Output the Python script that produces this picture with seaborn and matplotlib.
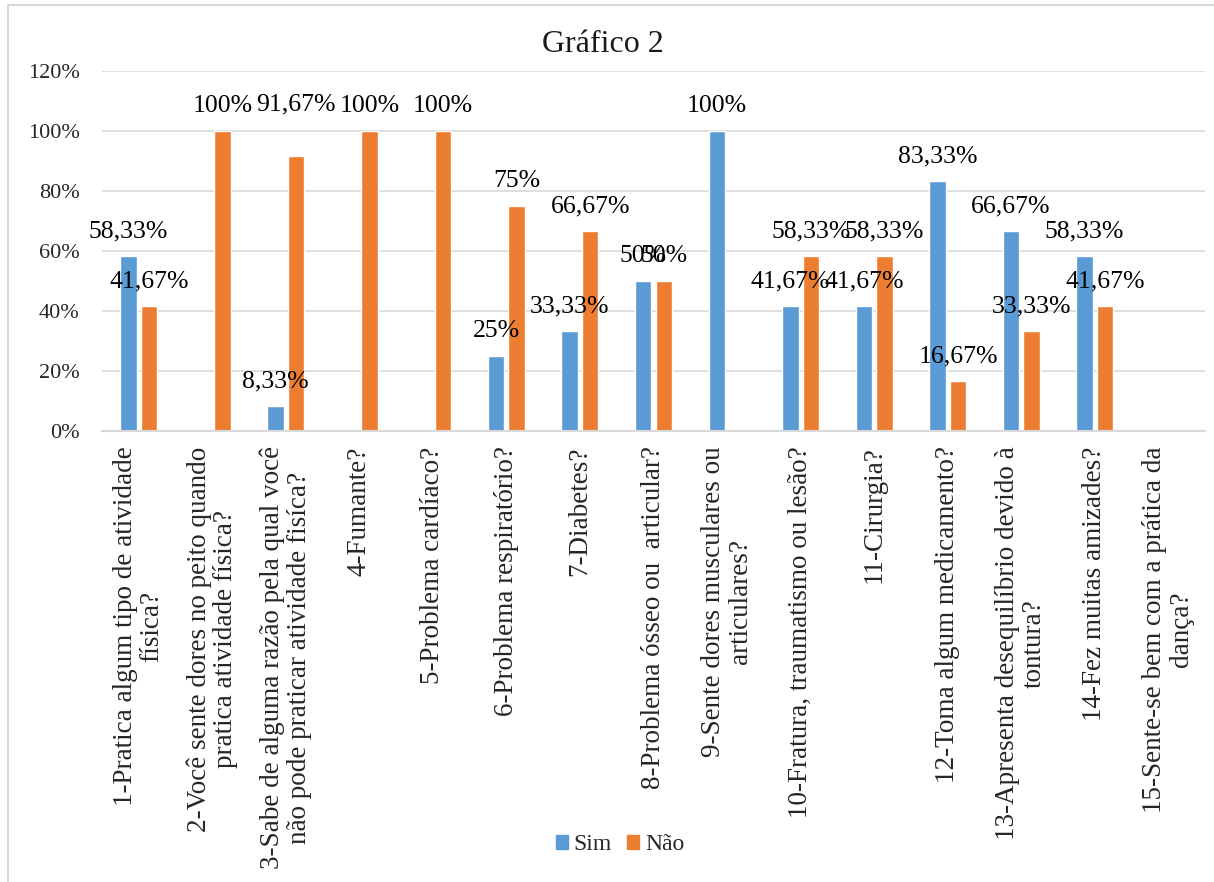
import numpy as np
import pandas as pd
import matplotlib
matplotlib.use("Agg")
import matplotlib.pyplot as plt
import matplotlib.patches as mpatches
from matplotlib.ticker import FixedLocator
import seaborn as sns

# ---------------- data ----------------
categories = [
    "1-Pratica algum tipo de atividade\nfísica?",
    "2-Você sente dores no peito quando\npratica atividade física?",
    "3-Sabe de alguma razão pela qual você\nnão pode praticar atividade fisíca?",
    "4-Fumante?",
    "5-Problema cardíaco?",
    "6-Problema respiratório?",
    "7-Diabetes?",
    "8-Problema ósseo ou  articular?",
    "9-Sente dores musculares ou\narticulares?",
    "10-Fratura, traumatismo ou lesão?",
    "11-Cirurgia?",
    "12-Toma algum medicamento?",
    "13-Apresenta desequilíbrio devido à\ntontura?",
    "14-Fez muitas amizades?",
    "15-Sente-se bem com a prática da\ndança?",
]
sim = [58.33, np.nan, 8.33, np.nan, np.nan, 25, 33.33, 50, 100, 41.67, 41.67, 83.33, 66.67, 58.33, np.nan]
nao = [41.67, 100, 91.67, 100, 100, 75, 66.67, 50, np.nan, 58.33, 58.33, 16.67, 33.33, 41.67, np.nan]
series_names = ["Sim", "Não"]
yticks = [0, 20, 40, 60, 80, 100, 120]
ytick_labels = ["0%", "20%", "40%", "60%", "80%", "100%", "120%"]
title = "Gráfico 2"

# ---------------- style ----------------
sns.set_theme(style="white")
plt.rcParams["font.family"] = ["Liberation Serif", "DejaVu Serif"]

BLUE = "#5B9BD5"
ORANGE = "#ED7D31"
GRID = "#D9D9D9"

W, H, DPI = 1214, 882, 100
fig = plt.figure(figsize=(W / DPI, H / DPI), dpi=DPI)
fig.patch.set_facecolor("white")

ax_left, ax_right = 102 / W, 1205 / W
ax_bottom, ax_top = 1 - 431 / H, 1 - 71 / H
ax = fig.add_axes([ax_left, ax_bottom, ax_right - ax_left, ax_top - ax_bottom])

df = pd.DataFrame({
    "cat": categories * 2,
    "serie": [series_names[0]] * len(categories) + [series_names[1]] * len(categories),
    "val": sim + nao,
})

sns.barplot(data=df, x="cat", y="val", hue="serie", order=categories,
            hue_order=series_names, palette=[BLUE, ORANGE],
            width=0.56, gap=0.2, dodge=True, ax=ax, errorbar=None,
            saturation=1, legend=False)

ax.set_xlim(-0.5, len(categories) - 0.5)
ax.set_ylim(0, 120)
ax.set_yticks(yticks)
ax.set_yticklabels(ytick_labels, fontsize=16)
ax.tick_params(axis="y", length=0, pad=16)
ax.yaxis.grid(True, color=GRID, linewidth=1.2)
ax.set_axisbelow(True)

for s in ["left", "top", "right"]:
    ax.spines[s].set_visible(False)
ax.spines["bottom"].set_color(GRID)
ax.spines["bottom"].set_linewidth(1.5)

ax.set_xticks(range(len(categories)))
ax.set_xticklabels(categories, rotation=90, ha="center", va="top",
                   multialignment="center", fontsize=19.5,
                   linespacing=1.08)
ax.tick_params(axis="x", which="major", length=0, pad=11)
ax.xaxis.set_minor_locator(FixedLocator(np.arange(-0.5, len(categories), 1.0)))
ax.tick_params(axis="x", which="minor", length=5, width=1.3, color=GRID,
               direction="out")
ax.set_xlabel("")
ax.set_ylabel("")


def fmt(v):
    if abs(v - round(v)) < 1e-9:
        return f"{int(round(v))}%"
    return f"{v:.2f}".replace(".", ",") + "%"


for container in ax.containers:
    for bar in container:
        h = bar.get_height()
        if np.isnan(h) or h == 0:
            continue
        xc = bar.get_x() + bar.get_width() / 2
        off_px = 25
        if abs(h - 91.67) < 1e-6:
            off_px = 52
        ax.annotate(fmt(h), xy=(xc, h), xytext=(0, off_px * 72 / DPI),
                    textcoords="offset points", ha="center", va="center",
                    fontsize=18.5, color="black", annotation_clip=False)

# title
fig.text(603 / W, 1 - 45 / H, title, ha="center", va="center", fontsize=23,
         color="#1a1a1a")

# legend
handles = [mpatches.Patch(color=BLUE, label=series_names[0]),
           mpatches.Patch(color=ORANGE, label=series_names[1])]
fig.legend(handles=handles, loc="center", bbox_to_anchor=(620 / W, 1 - 845 / H),
           ncol=2, frameon=False, fontsize=17, handlelength=0.5,
           handleheight=0.5, handletextpad=0.25, columnspacing=0.65)

# chart area border (only top & left visible)
border = mpatches.Rectangle((8 / W, -0.2), 1.2, (1 - 5 / H) + 0.2,
                            transform=fig.transFigure, fill=False,
                            edgecolor=GRID, linewidth=1.5, clip_on=False)
fig.patches.append(border)

fig.savefig("out.png", dpi=DPI, facecolor="white")
